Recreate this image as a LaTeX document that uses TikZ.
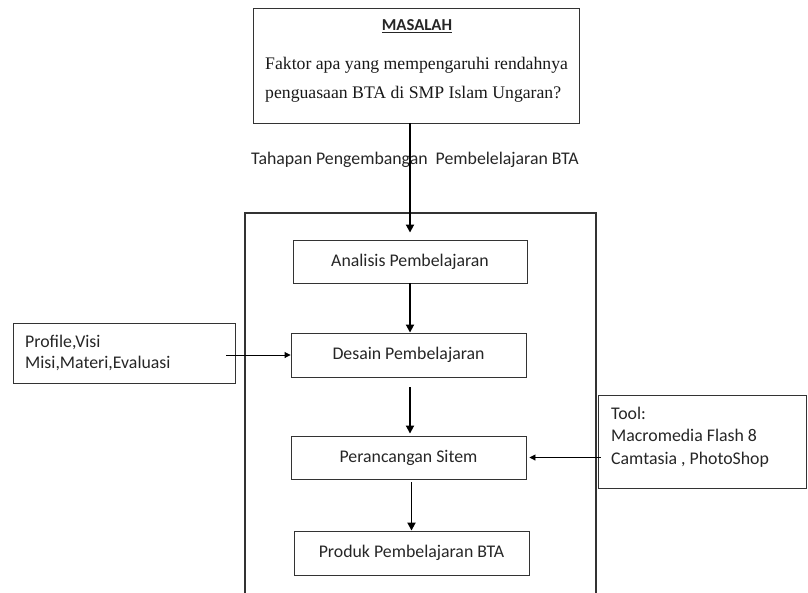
\documentclass[tikz,border=0pt]{standalone}
\usepackage{fontspec}
\setmainfont{Carlito}
\newfontfamily\serifcam{Liberation Serif}
\usetikzlibrary{arrows.meta}
\begin{document}
\begin{tikzpicture}[x=1pt,y=-1pt,
  box/.style={draw=black!80, line width=0.9pt, rectangle, inner sep=0pt, text=black!85, font=\fontsize{17.8}{21}\selectfont},
  lbl/.style={inner sep=0pt, text=black!85, font=\fontsize{17.8}{21}\selectfont},
  txt/.style={inner sep=0pt, anchor=west, text=black!85, font=\fontsize{17.8}{21}\selectfont},
  stxt/.style={inner sep=0pt, anchor=west, text=black!90, font=\serifcam\fontsize{17.7}{21}\selectfont},
  varr/.style={line width=1.8pt, -{Triangle[length=8pt,width=8pt]}},
  harr/.style={line width=0.9pt, -{Triangle[length=6pt,width=6pt]}}]
\useasboundingbox (0,0) rectangle (808,592);
% frame of the stages (open at the bottom)
\draw[line width=1.3pt, draw=black!80] (245,593) -- (245,213) -- (596,213) -- (596,593);
% boxes
\node[box, minimum width=326pt, minimum height=115pt] (top) at (416,65.5) {};
\node[box, minimum width=234pt, minimum height=43pt] (analisis) at (410,261.5) {Analisis Pembelajaran};
\node[box, minimum width=235pt, minimum height=44pt] (desain) at (408.5,355) {Desain Pembelajaran};
\node[box, minimum width=235pt, minimum height=43pt] (perancangan) at (408.5,457.5) {Perancangan Sitem};
\node[box, minimum width=235pt, minimum height=44pt] (produk) at (411.5,553) {Produk Pembelajaran BTA};
\node[box, minimum width=222pt, minimum height=60pt] (leftbox) at (124,353) {};
\node[box, minimum width=208pt, minimum height=93pt] (toolbox) at (702,441.5) {};
% texts
\node[lbl, font=\bfseries\fontsize{16.7}{19}\selectfont] (masalah) at (417,26) {\underline{MASALAH}};
\node[stxt] (q1) at (265,65) {Faktor apa yang mempengaruhi rendahnya};
\node[stxt] (q2) at (265,94) {penguasaan BTA di SMP Islam Ungaran?};
\node[lbl] (tahap) at (415,160) {Tahapan Pengembangan\ \ Pembelelajaran BTA};
\node[txt] (l1) at (25,342) {Profile,Visi};
\node[txt] (l2) at (25,363) {Misi,Materi,Evaluasi};
\node[txt] (t1) at (611,413) {Tool:};
\node[txt] (t2) at (611,435) {Macromedia Flash 8};
\node[txt] (t3) at (611,460) {Camtasia , PhotoShop};
% connectors
\draw[varr, shorten >=7pt] (top.south -| analisis.north) -- (analisis.north);
\draw[varr] (analisis.south) -- (desain.north -| analisis.south);
\draw[varr, shorten <=10pt, shorten >=2pt] (desain.south -| analisis.south) -- (perancangan.north -| analisis.south);
\draw[varr, shorten <=3pt] (perancangan.south -| produk.north) -- (produk.north);
\draw[harr, shorten <=-9pt] (leftbox.east |- desain.west) -- (desain.west);
\draw[harr, shorten <=-3pt, shorten >=3pt] (toolbox.west |- perancangan.east) -- (perancangan.east);
\end{tikzpicture}
\end{document}
